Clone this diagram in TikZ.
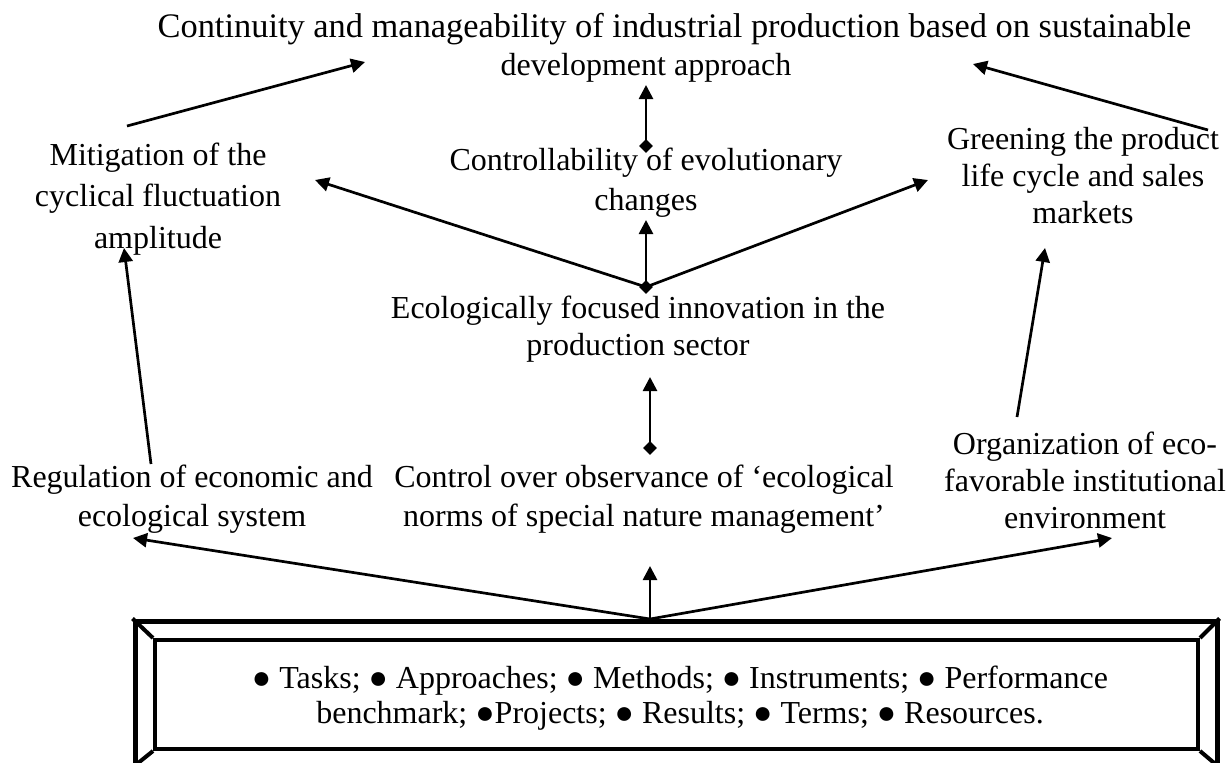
\documentclass[tikz,border=0pt]{standalone}
\usepackage{fontspec}
\setmainfont{Liberation Serif}
\usetikzlibrary{arrows.meta,shapes.geometric}
\begin{document}
\begin{tikzpicture}[x=0.5pt,y=-0.5pt,
 txt/.style={align=center, inner sep=0pt, anchor=base, font=\fontsize{16}{20}\selectfont},
 conn/.style={line width=1.35pt, -{Triangle[length=7pt,width=7pt]}},
 dia/.style={diamond, fill=black, draw=none, inner sep=0pt, minimum width=7pt, minimum height=7pt},
 frameouter/.style={draw, line width=2.5pt, inner sep=0pt, minimum width=541pt, minimum height=72pt},
 frameinner/.style={draw, line width=2pt, inner sep=0pt, minimum width=521.5pt, minimum height=54.5pt}]
\useasboundingbox (0,0) rectangle (1230,762);
% texts (anchor = baseline of last line)
\node[txt, font=\fontsize{17.2}{20}\selectfont] (title) at (674.5,37) {Continuity and manageability of industrial production based on sustainable};
\node[txt] (title2) at (646,75) {development approach};
\node[txt, font=\fontsize{16}{20.75}\selectfont] (mit) at (158,248) {Mitigation of the\\cyclical fluctuation\\amplitude};
\node[txt] (ctrl) at (646,210) {Controllability of evolutionary\\changes};
\node[txt, font=\fontsize{16}{18.5}\selectfont] (green) at (1083,223) {Greening the product\\life cycle and sales\\markets};
\node[txt, font=\fontsize{16}{18.5}\selectfont] (eco) at (638,355) {Ecologically focused innovation in the\\production sector};
\node[txt, font=\fontsize{16}{19.5}\selectfont] (reg) at (192,526) {Regulation of economic and\\ecological system};
\node[txt, font=\fontsize{16}{19.5}\selectfont] (cont) at (644,526) {Control over observance of ‘ecological\\norms of special nature management’};
\node[txt, font=\fontsize{16}{18.5}\selectfont] (org) at (1085,528) {Organization of eco-\\favorable institutional\\environment};
% frame
\node[frameouter] (frame) at (676,693) {};
\node[frameinner] (inner) at (676.5,694.5) {};
\draw[line width=2pt] (frame.north west) -- (inner.north west);
\draw[line width=2pt] (frame.north east) -- (inner.north east);
\draw[line width=2pt] (frame.south west) -- (inner.south west);
\draw[line width=2pt] (frame.south east) -- (inner.south east);
\node[txt, font=\fontsize{16}{17.5}\selectfont] (items) at (680,723) {● Tasks; ● Approaches; ● Methods; ● Instruments; ● Performance\\benchmark; ●Projects; ● Results; ● Terms; ● Resources.};
% diamonds
\node[dia] (d1) at (646,287) {};
\node[dia] (d2) at (646,146) {};
\node[dia] (d3) at (650,448) {};
% coordinates
\coordinate (src) at (650,619);
\coordinate (tReg) at (133,538);
\coordinate (tCont) at (650,566);
\coordinate (tOrg) at (1112,538);
\coordinate (sReg) at (151,464);
\coordinate (tMitB) at (124,248);
\coordinate (sOrg) at (1017,417);
\coordinate (tGreenB) at (1045,248);
\coordinate (tMitR) at (315,180);
\coordinate (tGreenL) at (928,180);
\coordinate (tCtrl) at (646,220);
\coordinate (tEco) at (650,377);
\coordinate (tTitle) at (646,85);
\coordinate (sMit) at (127,126);
\coordinate (tTitleL) at (365,62);
\coordinate (sGreen) at (1208,130);
\coordinate (tTitleR) at (973,64);
% connectors
\draw[conn] (src) -- (tReg);
\draw[conn] (src) -- (tCont);
\draw[conn] (src) -- (tOrg);
\draw[conn] (sReg) -- (tMitB);
\draw[conn] (sOrg) -- (tGreenB);
\draw[conn] (d3.center) -- (tEco);
\draw[conn] (d1.center) -- (tMitR);
\draw[conn] (d1.center) -- (tGreenL);
\draw[conn] (d1.center) -- (tCtrl);
\draw[conn] (d2.center) -- (tTitle);
\draw[conn] (sMit) -- (tTitleL);
\draw[conn] (sGreen) -- (tTitleR);
\end{tikzpicture}
\end{document}
